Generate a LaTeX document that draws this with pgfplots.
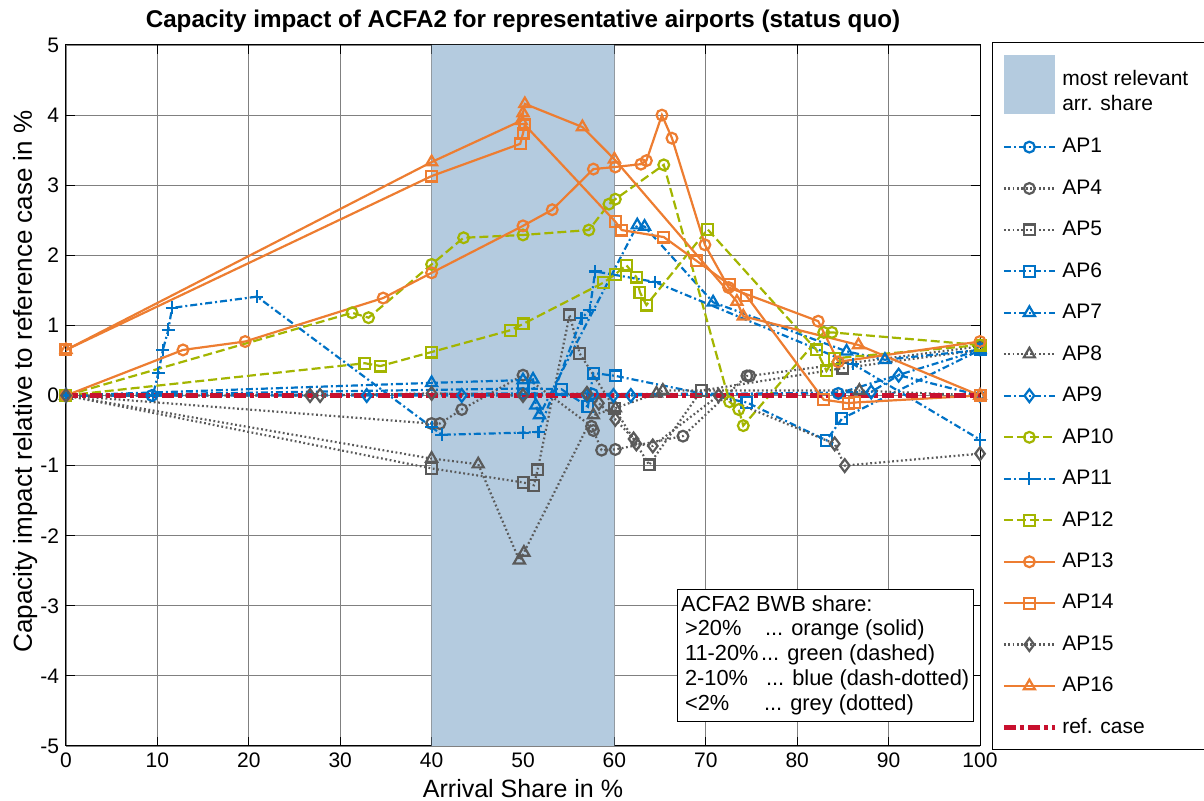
\documentclass[border=0pt]{standalone}
\usepackage{fontspec}
\setmainfont{Liberation Sans}
\usepackage{pgfplots}
\pgfplotsset{compat=1.18}

\definecolor{cOrange}{RGB}{237,125,49}
\definecolor{cGreen}{RGB}{163,181,0}
\definecolor{cBlue}{RGB}{0,114,198}
\definecolor{cGrey}{RGB}{90,90,90}
\definecolor{cRed}{RGB}{200,16,46}
\definecolor{cBand}{RGB}{180,203,223}

% line styles by BWB share group
\pgfplotsset{
  apblue/.style={cBlue, line width=1.1pt, dash pattern=on 3.5pt off 1.5pt on 1pt off 1.5pt, mark options={solid}},
  apgrey/.style={cGrey, line width=1.1pt, dash pattern=on 0.9pt off 1.3pt, mark options={solid}},
  apgreen/.style={cGreen, line width=1.1pt, dash pattern=on 4.5pt off 2pt, mark options={solid}},
  aporange/.style={cOrange, line width=1.1pt, solid, mark options={solid}},
}

\begin{document}
\begin{tikzpicture}
\useasboundingbox (-33pt,-27.5pt) rectangle (569pt,373pt);
\begin{axis}[
  at={(0,0)}, anchor=south west,
  scale only axis, width=457pt, height=350.5pt,
  xmin=0, xmax=100, ymin=-5, ymax=5,
  xtick={0,10,...,100}, ytick={-5,-4,...,5},
  grid=major, major grid style={black!50, line width=0.4pt},
  axis line style={line width=0.5pt},
  tick style={black, line width=0.5pt}, major tick length=4.5pt,
  tick align=inside,
  clip=false,
  /pgf/number format/assume math mode=true,
  ticklabel style={font=\fontsize{10.5}{12}\selectfont},
  xlabel={Arrival Share in \%},
  ylabel={Capacity impact relative to reference case in \%},
  xlabel style={font=\fontsize{12.5}{15}\selectfont, at={(axis description cs:0.5,-0.0728)}, anchor=base},
  ylabel style={font=\fontsize{13}{15}\selectfont, at={(axis description cs:-0.0372,0.52)}, anchor=base},
  title={Capacity impact of ACFA2 for representative airports (status quo)},
  title style={font=\bfseries\fontsize{12.1}{14}\selectfont, at={(axis description cs:0.5,1.0072)}, anchor=base},
  legend cell align=left,
  legend style={at={(axis description cs:1.0131,1.0043)}, anchor=north west,
    draw=black, fill=none, line width=0.5pt, inner xsep=4.5pt, inner ysep=6.5pt,
    font=\fontsize{10.5}{12.6}\selectfont,
    nodes={inner sep=0pt}, row sep=11.95pt,
    /tikz/column sep=0pt,
    /tikz/every odd column/.append style={column sep=2.5pt}},
  legend image code/.code={\draw[mark repeat=2,mark phase=2,#1] plot coordinates {(0pt,0pt) (12.75pt,0pt) (25.5pt,0pt)};},
]

% most relevant arrival share band
\addplot[fill=cBand, draw=none,
  legend image code/.code={\fill[cBand] (0pt,-13.5pt) rectangle (25.5pt,16pt);}]
  coordinates {(40,-5) (60,-5) (60,5) (40,5) (40,-5)};
\addlegendentry{\raisebox{3pt}{\begin{tabular}{@{}l@{}}most relevant\hspace*{4pt}\\arr. share\end{tabular}}}

\addplot[apblue, mark=o, mark size=2.7pt] coordinates {
 (0,0) (9.4,0) (50,0.03) (57.6,0.02) (84.5,0.03) (100,0.65)};
\addlegendentry{AP1}

\addplot[apgrey, mark=o, mark size=2.7pt] coordinates {
 (0,0) (40,-0.4) (40.9,-0.4) (43.3,-0.2) (50,0.29) (57.5,-0.44) (57.7,-0.5)
 (58.6,-0.78) (60.1,-0.77) (67.5,-0.58) (74.5,0.28) (74.8,0.28) (100,0.7)};
\addlegendentry{AP4}

\addplot[apgrey, mark=square, mark size=2.7pt] coordinates {
 (0,0) (40,-1.04) (50,-1.24) (51.2,-1.28) (51.6,-1.06) (55.1,1.15) (56.2,0.6)
 (60,-0.18) (63.8,-0.99) (69.5,0.07) (85,0.39) (100,0.65)};
\addlegendentry{AP5}

\addplot[apblue, mark=square, mark size=2.7pt] coordinates {
 (0,0) (50,0.1) (54.2,0.09) (57.1,-0.16) (57.7,0.32) (60.1,0.28) (74.5,-0.1)
 (83.2,-0.64) (84.9,-0.33) (100,0.65)};
\addlegendentry{AP6}

\addplot[apblue, mark=triangle, mark size=3.2pt] coordinates {
 (0,0) (40,0.18) (50,0.22) (51.1,0.23) (51.4,-0.14) (51.8,-0.28) (62.5,2.43)
 (63.3,2.41) (70.8,1.33) (85.4,0.63) (89.6,0.51) (100,0.65)};
\addlegendentry{AP7}

\addplot[apgrey, mark=triangle, mark size=3.2pt] coordinates {
 (0,0) (40,-0.9) (45.1,-0.98) (49.6,-2.35) (50.1,-2.24) (57.7,-0.28) (60.1,-0.18)
 (64.6,0.03) (65.3,0.07) (86.8,0.07) (100,0)};
\addlegendentry{AP8}

\addplot[apblue, mark=diamond, mark size=3.2pt] coordinates {
 (0,0) (32.9,0) (43.3,0) (57,0) (59.9,0) (61.8,0) (88.1,0.05) (91.1,0.29) (100,0)};
\addlegendentry{AP9}

\addplot[apgreen, mark=o, mark size=2.7pt] coordinates {
 (0,0) (31.3,1.18) (33.1,1.11) (40,1.87) (43.5,2.25) (50,2.29) (57.2,2.36)
 (59.4,2.73) (60.1,2.8) (65.4,3.29) (72.6,-0.09) (73.6,-0.2) (74.1,-0.43)
 (82.9,0.9) (83.8,0.9) (100,0.72)};
\addlegendentry{AP10}

\addplot[apblue, mark=+, mark size=3.2pt] coordinates {
 (0,0) (9.5,0) (10.1,0.32) (10.6,0.65) (11.2,0.94) (11.6,1.25) (20.9,1.41)
 (40,-0.45) (41.1,-0.56) (50,-0.53) (51.7,-0.52) (56.4,1.1) (57.3,1.22)
 (57.9,1.77) (64.4,1.62) (86.1,0.45) (100,-0.63)};
\addlegendentry{AP11}

\addplot[apgreen, mark=square, mark size=2.7pt] coordinates {
 (0,0) (32.7,0.46) (34.4,0.42) (40,0.62) (48.6,0.93) (50,1.02) (58.8,1.61)
 (60.1,1.73) (61.3,1.86) (62.4,1.69) (62.8,1.47) (63.5,1.29) (70.2,2.37)
 (82.1,0.65) (83.2,0.35) (84.1,0.53) (100,0.72)};
\addlegendentry{AP12}

\addplot[aporange, mark=o, mark size=2.7pt] coordinates {
 (0,0) (12.8,0.65) (19.6,0.77) (34.7,1.39) (40,1.75) (50,2.42) (53.2,2.65)
 (57.7,3.23) (60.1,3.26) (62.9,3.3) (63.5,3.35) (65.2,4.0) (66.3,3.67)
 (69.9,2.15) (72.5,1.54) (82.3,1.06) (84.5,0.48) (100,0.77)};
\addlegendentry{AP13}

\addplot[aporange, mark=square, mark size=2.7pt] coordinates {
 (0,0.65) (40,3.13) (49.7,3.59) (50,3.74) (50.2,3.86) (60.1,2.48) (60.8,2.36)
 (65.4,2.26) (69,1.92) (72.6,1.58) (74.4,1.43) (82.9,-0.06) (85.6,-0.11)
 (86.3,-0.1) (100,0)};
\addlegendentry{AP14}

\addplot[apgrey, mark=diamond, mark size=3.2pt] coordinates {
 (0,0) (26.7,0) (27.8,0) (40,0.03) (50,0) (57,0.03) (58.3,-0.11) (60.1,-0.34)
 (62.1,-0.62) (62.4,-0.69) (64.2,-0.72) (71.4,0) (84.1,-0.69) (85.2,-1.0) (100,-0.83)};
\addlegendentry{AP15}

\addplot[aporange, mark=triangle, mark size=3.2pt] coordinates {
 (0,0.65) (40,3.33) (49.8,3.92) (50,4.03) (50.2,4.16) (56.5,3.83) (60,3.37)
 (73.4,1.34) (74.1,1.13) (86.7,0.72) (100,0)};
\addlegendentry{AP16}

\addplot[cRed, line width=2.4pt, dash pattern=on 6pt off 2pt on 2pt off 2pt] coordinates {(0,0) (100,0)};
\addlegendentry{ref. case}

\node[draw=black, line width=0.5pt, fill=white, anchor=north west, inner xsep=2pt, inner ysep=2pt,
  font=\fontsize{10.9}{12.4}\selectfont] at (axis cs:66.8,-2.765) {%
  \begin{tabular}{@{}l@{}}
  ACFA2 BWB share:\\
  \hspace*{2pt}\makebox[40pt][l]{>20\%}... orange (solid)\\
  \hspace*{2pt}\makebox[38pt][l]{11-20\%}... green (dashed)\\
  \hspace*{2pt}\makebox[40.5pt][l]{2-10\%}... blue (dash-dotted)\\
  \hspace*{2pt}\makebox[39.5pt][l]{<2\%}... grey (dotted)
  \end{tabular}};
\end{axis}
\end{tikzpicture}
\end{document}
